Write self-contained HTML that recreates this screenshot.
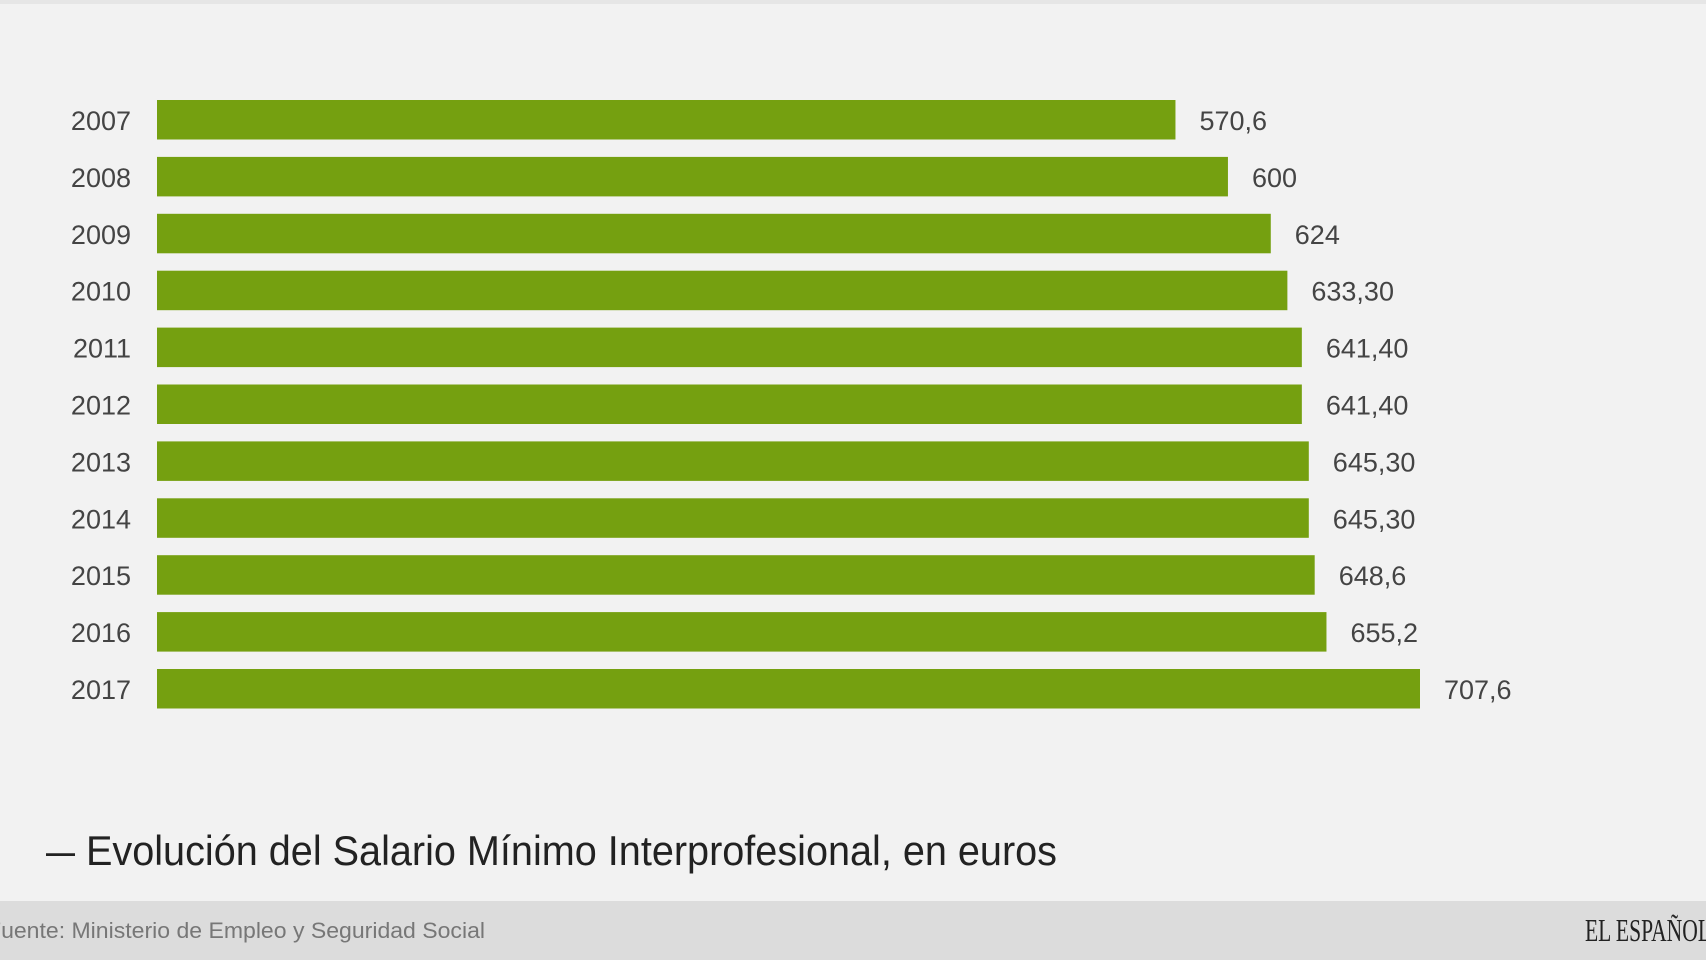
<!DOCTYPE html>
<html><head><meta charset="utf-8"><style>
html,body{margin:0;padding:0;background:#f2f2f2;}
svg{display:block;font-family:"Liberation Sans",sans-serif;}
</style></head><body>
<svg id="chart" width="1706" height="960" viewBox="0 0 1706 960" xmlns="http://www.w3.org/2000/svg">
<rect x="0" y="0" width="1706" height="960" fill="#f2f2f2"/>
<rect x="0" y="0" width="1706" height="4" fill="#e6e6e6"/>
<g id="bars"></g>
<text x="46" y="865" font-size="42" fill="#222" textLength="29" lengthAdjust="spacingAndGlyphs">—</text>
<text x="86" y="865" font-size="42" fill="#222" textLength="971" lengthAdjust="spacingAndGlyphs">Evolución del Salario Mínimo Interprofesional, en euros</text>
<rect x="0" y="901" width="1706" height="59" fill="#dcdcdc"/>
<text x="-13" y="938" font-size="22" fill="#777" textLength="498" lengthAdjust="spacingAndGlyphs">Fuente: Ministerio de Empleo y Seguridad Social</text>
<text x="1585" y="941" font-family="Liberation Serif, serif" font-size="32" fill="#222" textLength="126" lengthAdjust="spacingAndGlyphs">EL ESPAÑOL</text>
</svg>
<script>
const years = ["2007","2008","2009","2010","2011","2012","2013","2014","2015","2016","2017"];
const values = [570.6,600,624,633.3,641.4,641.4,645.3,645.3,648.6,655.2,707.6];
const valueLabels = ["570,6","600","624","633,30","641,40","641,40","645,30","645,30","648,6","655,2","707,6"];
const NS="http://www.w3.org/2000/svg";
const x0=157, pxPerUnit=(1420-157)/707.6;
function xScale(v){return x0+v*pxPerUnit;}
function yScale(i){return 100+i*56.9;}
const barH=39.5;
const g=document.getElementById('bars');
years.forEach((yr,i)=>{
  const y=yScale(i);
  const r=document.createElementNS(NS,'rect');
  
  
  r.setAttribute('x',x0);r.setAttribute('y',y);
  r.setAttribute('width',xScale(values[i])-x0);r.setAttribute('height',barH);
  r.setAttribute('fill','#75a010');
  g.appendChild(r);
  const t=document.createElementNS(NS,'text');
  
  
  t.setAttribute('x',131);t.setAttribute('y',y+30);
  t.setAttribute('text-anchor','end');t.setAttribute('font-size','27');t.setAttribute('fill','#444');
  t.textContent=yr;g.appendChild(t);
  const v=document.createElementNS(NS,'text');
  
  
  v.setAttribute('x',xScale(values[i])+24);v.setAttribute('y',y+30);
  v.setAttribute('font-size','27');v.setAttribute('fill','#444');
  v.textContent=valueLabels[i];g.appendChild(v);
});
</script>
</body></html>
